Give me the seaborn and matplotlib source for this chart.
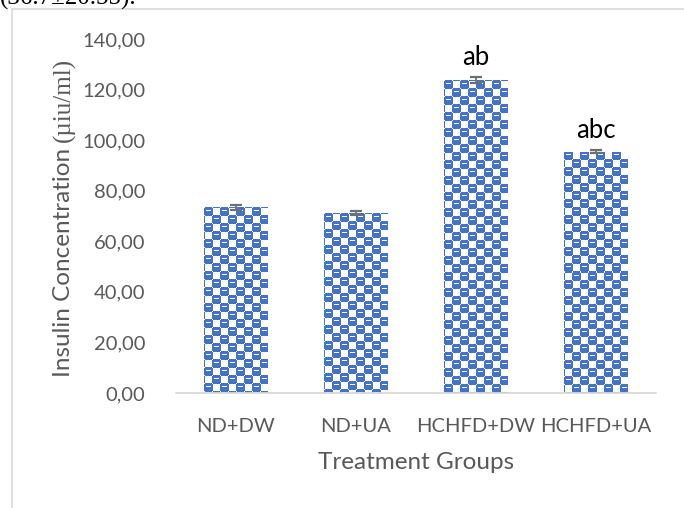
import numpy as np
import pandas as pd
import matplotlib
matplotlib.use("Agg")
import matplotlib.pyplot as plt
from matplotlib.ticker import FuncFormatter
from matplotlib.lines import Line2D
import seaborn as sns

# Data
groups = ["ND+DW", "ND+UA", "HCHFD+DW", "HCHFD+UA"]
insulin_mean = [73.5, 71.1, 123.7, 95.4]
insulin_err = [1.0, 0.9, 1.2, 0.6]
sig_labels = ["", "", "ab", "abc"]
y_ticks = [0, 20, 40, 60, 80, 100, 120, 140]

BLUE = "#4472C4"
GREY_TXT = "#595959"
GREY_LINE = "#d9d9d9"
SANS = "Lato"

sns.set_theme(style="white")
plt.rcParams["font.family"] = [SANS, "DejaVu Sans"]

W, H, DPI = 684, 508, 100
fig = plt.figure(figsize=(W / DPI, H / DPI), dpi=DPI)
fig.patch.set_facecolor("white")

def px(x, y):
    """pixel (from top-left) -> figure fraction"""
    return x / W, 1 - y / H

# plot area
x0, y_top = px(176, 39)
x1, y_bot = px(656, 393)
ax = fig.add_axes([x0, y_bot, x1 - x0, y_top - y_bot])

df = pd.DataFrame({"group": groups, "value": insulin_mean})
sns.barplot(data=df, x="group", y="value", ax=ax, color="white",
            width=0.533, errorbar=None, saturation=1, edgecolor="none")

ax.set_ylim(0, 140)
ax.set_xlim(-0.5, len(groups) - 0.5)
ax.set_yticks(y_ticks)
ax.yaxis.set_major_formatter(FuncFormatter(lambda v, p: f"{v:.2f}".replace(".", ",")))
ax.tick_params(axis="both", length=0, labelsize=14.5, colors=GREY_TXT)
ax.tick_params(axis="y", pad=22)
ax.tick_params(axis="x", pad=18)
for s in ["top", "right", "left"]:
    ax.spines[s].set_visible(False)
ax.spines["bottom"].set_color(GREY_LINE)
ax.spines["bottom"].set_linewidth(1.3)
ax.set_facecolor("white")
ax.set_xlabel("Treatment Groups", fontsize=17.5, color=GREY_TXT, labelpad=12)
ax.set_ylabel("")

# checker "sphere" fill pattern for the bars, pixel aligned
fig.canvas.draw()
blob = np.ones((9, 9), dtype=bool)
for (r, c) in [(0, 0), (0, 8), (8, 0), (8, 8)]:
    blob[r, c] = False          # rounded corners
blob[3, 2:7] = False            # white highlight stroke
tile = np.zeros((16, 16), dtype=bool)
for (r0, c0) in [(0, 0), (8, 8)]:
    rr = np.arange(r0, r0 + 9) % 16
    cc = np.arange(c0, c0 + 9) % 16
    sub = tile[np.ix_(rr, cc)]
    tile[np.ix_(rr, cc)] = sub | blob
blue_rgb = np.array(matplotlib.colors.to_rgb(BLUE))

for patch in list(ax.patches):
    bx, bw, bh = patch.get_x(), patch.get_width(), patch.get_height()
    (dx0, dy0), (dx1, dy1) = ax.transData.transform([(bx, 0), (bx + bw, bh)])
    wpx, hpx = max(1, int(round(dx1 - dx0))), max(1, int(round(dy1 - dy0)))
    reps = (hpx // 16 + 2, wpx // 16 + 2)
    mask = np.tile(tile, reps)[:hpx, :wpx]
    img = np.ones((hpx, wpx, 3))
    img[mask] = blue_rgb
    im = ax.imshow(img, extent=(bx, bx + bw, 0, bh), aspect="auto",
                   interpolation="nearest", zorder=2, origin="upper")
    im.set_clip_path(patch)

ax.set_ylim(0, 140)
ax.set_xlim(-0.5, len(groups) - 0.5)

# error bars
ax.errorbar(np.arange(len(groups)), insulin_mean, yerr=insulin_err, fmt="none",
            ecolor="#6f6f6f", elinewidth=1.3, capsize=4.5, capthick=1.6, zorder=3)

# significance letters
for i, (m, e, lab) in enumerate(zip(insulin_mean, insulin_err, sig_labels)):
    if lab:
        ax.annotate(lab, (i, m + e), xytext=(0, 9), textcoords="offset points",
                    ha="center", va="baseline", fontsize=18.5, color="black")

# y axis title: sans text followed by a serif unit
fig.canvas.draw()
renderer = fig.canvas.get_renderer()
ax_x, ax_y = px(70, 377)
t1 = fig.text(ax_x, ax_y, "Insulin Concentration", rotation=90,
              rotation_mode="anchor", ha="left", va="baseline",
              fontsize=17.5, color=GREY_TXT)
bb = t1.get_window_extent(renderer)
y_next = ax_y + (bb.height + 6) / H
fig.text(ax_x, y_next, "(µiu/ml)", rotation=90, rotation_mode="anchor",
         ha="left", va="baseline", fontsize=18, color=GREY_TXT,
         family=["Liberation Serif", "DejaVu Serif"])

# chart frame (continues past the figure edges)
fig.add_artist(Line2D([12 / W, 1.0], [1 - 9 / H, 1 - 9 / H], color=GREY_LINE, lw=1.2))
fig.add_artist(Line2D([12 / W, 12 / W], [0.0, 1 - 9 / H], color=GREY_LINE, lw=1.2))

# preceding line of body text, mostly above the page edge
fig.text(0.0, 1 - 5 / H, "(36.7±20.55).", ha="left", va="baseline",
         fontsize=18, color="black", family=["Liberation Serif", "DejaVu Serif"])

fig.savefig("out.png", dpi=DPI, facecolor="white")
